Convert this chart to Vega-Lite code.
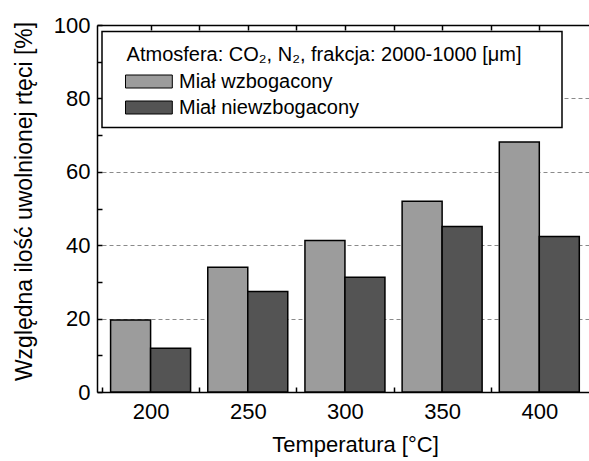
{
  "$schema": "https://vega.github.io/schema/vega-lite/v6.json",
  "width": 492,
  "height": 367,
  "autosize": {"type": "none"},
  "padding": {"left": 97, "top": 25, "right": 0, "bottom": 69},
  "background": "white",
  "config": {
    "font": "Liberation Sans",
    "view": {"stroke": null}
  },
  "data": {
    "values": [
      {"temperatura": 200, "seria": "Miał wzbogacony", "wartosc": 19.6},
      {"temperatura": 200, "seria": "Miał niewzbogacony", "wartosc": 11.9},
      {"temperatura": 250, "seria": "Miał wzbogacony", "wartosc": 34.0},
      {"temperatura": 250, "seria": "Miał niewzbogacony", "wartosc": 27.4},
      {"temperatura": 300, "seria": "Miał wzbogacony", "wartosc": 41.3},
      {"temperatura": 300, "seria": "Miał niewzbogacony", "wartosc": 31.3},
      {"temperatura": 350, "seria": "Miał wzbogacony", "wartosc": 52.0},
      {"temperatura": 350, "seria": "Miał niewzbogacony", "wartosc": 45.1},
      {"temperatura": 400, "seria": "Miał wzbogacony", "wartosc": 68.1},
      {"temperatura": 400, "seria": "Miał niewzbogacony", "wartosc": 42.4}
    ]
  },
  "layer": [
    {
      "transform": [{"filter": "datum.seria === 'Miał wzbogacony'"}],
      "mark": {"type": "bar", "orient": "vertical", "width": 40, "xOffset": -20, "stroke": "black", "strokeWidth": 1.5},
      "encoding": {
        "x": {
          "field": "temperatura", "type": "quantitative",
          "scale": {"domain": [175, 423], "nice": false, "zero": false},
          "axis": {
            "orient": "bottom",
            "values": [175, 200, 225, 250, 275, 300, 325, 350, 375, 400],
            "labelExpr": "datum.value % 50 === 0 ? datum.label : ''",
            "tickSize": -5, "tickColor": "black", "tickWidth": 1.5,
            "domainColor": "black", "domainWidth": 1.5,
            "labelFontSize": 22, "labelColor": "black", "labelPadding": 14, "labelFlush": false,
            "grid": false,
            "title": "Temperatura [°C]", "titleFontSize": 22, "titleFontWeight": "normal", "titleColor": "black",
            "titleX": 258, "titleY": 42, "titleAlign": "center", "titleBaseline": "top"
          }
        },
        "y": {
          "field": "wartosc", "type": "quantitative",
          "scale": {"domain": [0, 100], "nice": false},
          "axis": {
            "orient": "left",
            "values": [0, 10, 20, 30, 40, 50, 60, 70, 80, 90, 100],
            "labelExpr": "datum.value % 20 === 0 ? datum.label : ''",
            "tickSize": -5, "tickColor": "black", "tickWidth": 1.5,
            "domainColor": "black", "domainWidth": 1.5,
            "labelFontSize": 22, "labelColor": "black", "labelPadding": 12,
            "grid": false,
            "title": "Względna ilość uwolnionej rtęci [%]", "titleFontSize": 23, "titleFontWeight": "normal", "titleColor": "black",
            "titleX": -73, "titleY": 176, "titleAngle": -90, "titleAlign": "center", "titleBaseline": "middle"
          }
        },
        "fill": {
          "field": "seria", "type": "nominal",
          "scale": {"domain": ["Miał wzbogacony", "Miał niewzbogacony"], "range": ["#9c9c9c", "#545454"]},
          "legend": {
            "orient": "none", "legendX": 5, "legendY": 6.5,
            "title": "Atmosfera: CO₂, N₂, frakcja: 2000-1000 [μm]\u2800\u2800",
            "titleFontSize": 20, "titleFontWeight": "normal", "titleColor": "black", "titleLimit": 700, "titlePadding": 10,
            "labelFontSize": 20, "labelColor": "black", "labelLimit": 500, "labelOffset": 37,
            "strokeColor": "black", "padding": 10, "fillColor": "white",
            "symbolType": "M-1,-1H6.2V1H-1Z", "symbolSize": 169, "symbolStrokeColor": "black", "symbolStrokeWidth": 1,
            "symbolOffset": 10, "rowPadding": 6,
            "encode": {
              "legend": {"update": {"strokeWidth": {"value": 1.5}}},
              "title": {"update": {"dx": {"value": 14.6}, "dy": {"value": 3}}}
            }
          }
        }
      }
    },
    {
      "transform": [{"filter": "datum.seria === 'Miał niewzbogacony'"}],
      "mark": {"type": "bar", "orient": "vertical", "width": 40, "xOffset": 20, "stroke": "black", "strokeWidth": 1.5},
      "encoding": {
        "x": {
          "field": "temperatura", "type": "quantitative",
          "axis": {
            "orient": "top",
            "values": [200, 225, 250, 275, 300, 325, 350, 375, 400],
            "labels": false, "title": null,
            "tickSize": -5, "tickColor": "black", "tickWidth": 1.5,
            "domainColor": "black", "domainWidth": 1.5, "grid": false
          }
        },
        "y": {
          "field": "wartosc", "type": "quantitative",
          "axis": {
            "orient": "right",
            "values": [20, 40, 60, 80],
            "labels": false, "ticks": false, "domain": false, "title": null,
            "grid": true, "gridColor": "#8a8a8a", "gridDash": [4, 3], "gridWidth": 1
          }
        },
        "fill": {"field": "seria", "type": "nominal"}
      }
    }
  ]
}
